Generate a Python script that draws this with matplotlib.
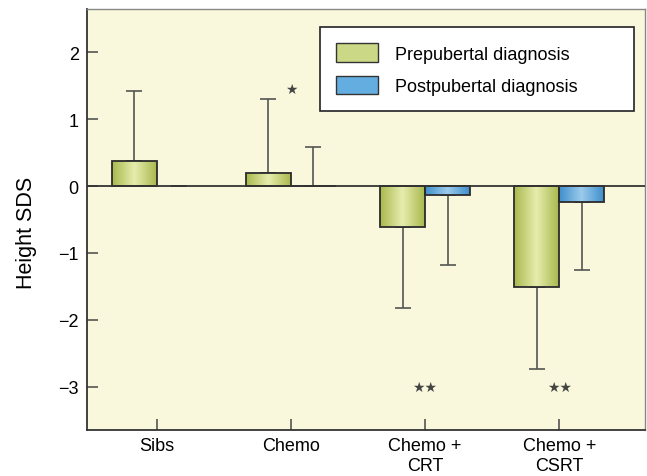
import numpy as np
import matplotlib
matplotlib.use('Agg')
import matplotlib.pyplot as plt
from matplotlib.colors import LinearSegmentedColormap
from matplotlib.patches import Patch

plt.rcParams['font.family'] = ['Liberation Sans', 'DejaVu Sans']

groups = ['Sibs', 'Chemo', 'Chemo +\nCRT', 'Chemo +\nCSRT']
pre_mean = [0.37, 0.19, -0.61, -1.51]
pre_sd = [1.06, 1.11, 1.21, 1.22]
post_mean = [np.nan, 0.0, -0.13, -0.24]
post_sd = [np.nan, 0.58, 1.05, 1.01]
sig_marks = ['', '\u2605', '\u2605\u2605', '\u2605\u2605']
sig_y = [np.nan, 1.46, -3.0, -3.0]

bg = '#f9f7dc'
green_cmap = LinearSegmentedColormap.from_list('g', ['#a9b94e', '#e6edae', '#a9b94e'])
blue_cmap = LinearSegmentedColormap.from_list('b', ['#3f8fcc', '#9ccbec', '#3f8fcc'])

fig = plt.figure(figsize=(6.47, 4.77), dpi=100)
fig.patch.set_facecolor('white')
ax = fig.add_axes([0.1345, 0.0964, 0.8625, 0.8826])
ax.set_facecolor(bg)

x = np.arange(len(groups))
w = 0.335


def draw_bars(xs, means, sds, cmap):
    bars = ax.bar(xs, means, w, facecolor='none', edgecolor='#2b2b2b', linewidth=1.3, zorder=4)
    grad = np.linspace(0, 1, 64).reshape(1, -1)
    for b, m in zip(bars, means):
        if np.isnan(m) or m == 0:
            continue
        x0, y0 = b.get_x(), b.get_y()
        im = ax.imshow(grad, cmap=cmap, aspect='auto', zorder=3,
                       extent=[x0, x0 + b.get_width(), y0, y0 + b.get_height()])
        im.set_clip_path(b)
    up = [[0 if (np.isnan(m) or m >= 0) else s for m, s in zip(means, sds)],
          [s if (not np.isnan(m) and m >= 0) else 0 for m, s in zip(means, sds)]]
    ax.errorbar(xs, np.nan_to_num(means), yerr=np.nan_to_num(up), fmt='none',
                ecolor='#555555', elinewidth=1.2, capsize=6, capthick=1.2, zorder=2)


draw_bars(x - w / 2, pre_mean, pre_sd, green_cmap)
draw_bars(x + w / 2, post_mean, post_sd, blue_cmap)

ax.axhline(0, color='#333333', linewidth=1.3, zorder=5)

for xi, lab, yy in zip(x, sig_marks, sig_y):
    if lab:
        ax.text(xi, yy, lab, ha='center', va='center', fontsize=10,
                family='DejaVu Sans', color='#444444')

ax.set_xlim(-0.52, 3.64)
ax.set_ylim(-3.65, 2.65)
ax.set_yticks([-3, -2, -1, 0, 1, 2])
ax.set_xticks(x)
ax.set_xticklabels(groups, fontsize=13, linespacing=1.2)
ax.tick_params(axis='y', direction='in', length=8, width=1.2, labelsize=13, pad=6, color='#555555')
ax.tick_params(axis='x', direction='in', length=8, width=1.2, labelsize=13, pad=5, color='#555555')
ax.set_ylabel('Height SDS', fontsize=15.5)
ax.yaxis.set_label_coords(-0.09, 0.47)

for s in ['left', 'bottom']:
    ax.spines[s].set_color('#333333')
    ax.spines[s].set_linewidth(1.3)
for s in ['top', 'right']:
    ax.spines[s].set_color('#888888')
    ax.spines[s].set_linewidth(1.0)

handles = [Patch(facecolor='#cbd886', edgecolor='#333333', linewidth=1.0),
           Patch(facecolor='#64ade0', edgecolor='#333333', linewidth=1.0)]
leg = ax.legend(handles, ['Prepubertal diagnosis', 'Postpubertal diagnosis'],
                loc='upper left', bbox_to_anchor=(0.4176, 0.767, 0.5627, 0.19),
                mode='expand', fontsize=13,
                fancybox=False, framealpha=1, edgecolor='#222222',
                handlelength=2.3, handleheight=1.2, handletextpad=0.95,
                labelspacing=0.72, borderpad=0.9, borderaxespad=0)
leg.get_frame().set_linewidth(1.2)
leg.set_zorder(10)

fig.savefig('out.png', dpi=100, facecolor='white')
